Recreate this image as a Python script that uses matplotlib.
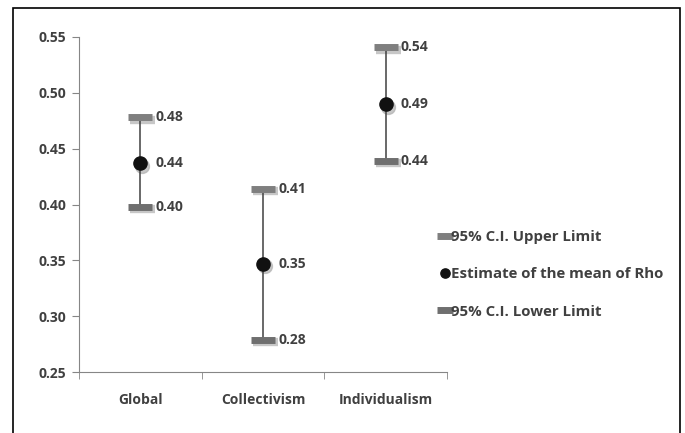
import matplotlib
matplotlib.use("Agg")
import matplotlib.pyplot as plt
from matplotlib.transforms import offset_copy
from matplotlib.patches import Rectangle

categories = ["Global", "Collectivism", "Individualism"]
upper = [0.478, 0.414, 0.541]
mean = [0.437, 0.347, 0.490]
lower = [0.398, 0.279, 0.439]
upper_lbl = ["0.48", "0.41", "0.54"]
mean_lbl = ["0.44", "0.35", "0.49"]
lower_lbl = ["0.40", "0.28", "0.44"]
yticks = [0.25, 0.30, 0.35, 0.40, 0.45, 0.50, 0.55]

plt.rcParams['font.family'] = ['Open Sans', 'DejaVu Sans']

fig = plt.figure(figsize=(6.85, 4.33), dpi=100)
ax = fig.add_axes([79 / 685, 1 - 372 / 433, (447 - 79) / 685, (372 - 37) / 433])

x = list(range(len(categories)))
shadow_tr = offset_copy(ax.transData, fig=fig, x=2, y=-2.5, units="dots")

# vertical range lines
for i in x:
    ax.plot([i, i], [lower[i], upper[i]], color="#404040", lw=1.1, zorder=2)

# soft shadows under the markers
ax.plot(x, upper, ls="none", marker="_", ms=18, mew=6, color="#b0b0b0",
        alpha=0.7, transform=shadow_tr, zorder=1)
ax.plot(x, lower, ls="none", marker="_", ms=18, mew=6, color="#b0b0b0",
        alpha=0.7, transform=shadow_tr, zorder=1)
ax.plot(x, mean, ls="none", marker="o", ms=10, color="#b0b0b0",
        alpha=0.7, transform=shadow_tr, zorder=1)

ax.plot(x, upper, ls="none", marker="_", ms=17, mew=5, color="#7f7f7f",
        zorder=3, label="95% C.I. Upper Limit")
ax.plot(x, mean, ls="none", marker="o", ms=9.5, color="#111111",
        zorder=4, label="Estimate of the mean of Rho")
ax.plot(x, lower, ls="none", marker="_", ms=17, mew=5, color="#6f6f6f",
        zorder=3, label="95% C.I. Lower Limit")

txt = dict(fontsize=10, fontweight="bold", color="#404040", va="center", ha="left")
for i in x:
    ax.annotate(upper_lbl[i], (i, upper[i]), xytext=(11, 0), textcoords="offset points", **txt)
    ax.annotate(mean_lbl[i], (i, mean[i]), xytext=(11, 0), textcoords="offset points", **txt)
    ax.annotate(lower_lbl[i], (i, lower[i]), xytext=(11, 0), textcoords="offset points", **txt)

ax.set_xlim(-0.5, 2.5)
ax.set_ylim(0.25, 0.55)
ax.set_yticks(yticks)
ax.set_yticklabels([f"{v:.2f}" for v in yticks])
ax.set_xticks(x)
ax.set_xticklabels(categories)
ax.set_xticks([-0.5, 0.5, 1.5, 2.5], minor=True)
ax.tick_params(axis="x", which="major", length=0, pad=15)
ax.tick_params(axis="x", which="minor", length=5, color="#868686", direction="out")
ax.tick_params(axis="y", length=5, color="#868686", pad=4)
for lab in ax.get_xticklabels() + ax.get_yticklabels():
    lab.set_fontsize(10)
    lab.set_fontweight("bold")
    lab.set_color("#404040")

for s in ["top", "right"]:
    ax.spines[s].set_visible(False)
for s in ["left", "bottom"]:
    ax.spines[s].set_color("#868686")

leg = fig.legend(*ax.get_legend_handles_labels(), loc="upper left",
                 bbox_to_anchor=(440 / 685, 1 - 230 / 433), frameon=False,
                 handlelength=0.6, handletextpad=0.15, labelspacing=1.55,
                 prop={"size": 10.8, "weight": "bold"}, borderaxespad=0,
                 borderpad=0, markerscale=0.7)
for t in leg.get_texts():
    t.set_color("#404040")

fig.add_artist(Rectangle((13 / 685, -0.05), (680 - 13) / 685, 1.05 - 8 / 433,
                         transform=fig.transFigure, fill=False, lw=1.2, ec="black"))

fig.savefig("out.png", dpi=100)
